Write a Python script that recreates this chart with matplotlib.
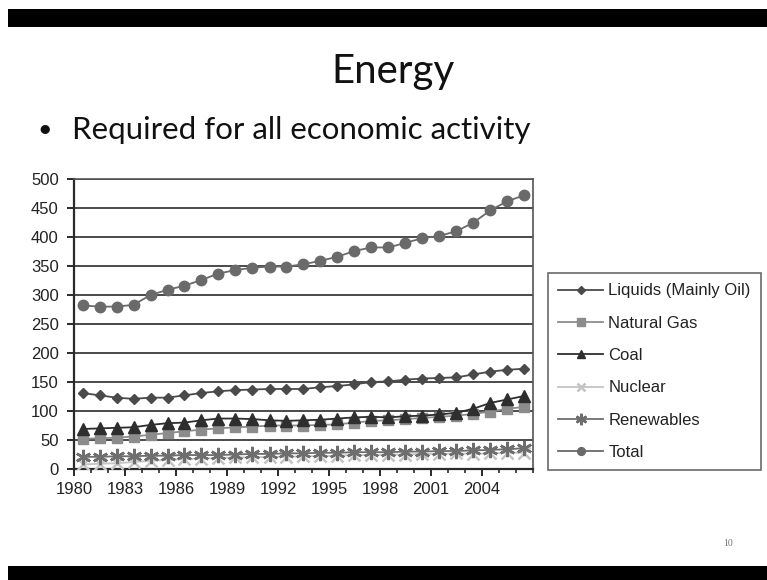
import numpy as np
import matplotlib
matplotlib.use("Agg")
import matplotlib.pyplot as plt
from matplotlib.patches import Rectangle

# World primary energy consumption by fuel (quadrillion Btu)
years = list(range(1980, 2007))
liquids = [131, 127, 123, 121, 123, 123, 127, 131, 134, 136, 137, 138, 138, 138, 141,
           143, 146, 150, 151, 154, 156, 157, 158, 163, 168, 171, 173]
natural_gas = [52, 53, 54, 56, 59, 62, 65, 68, 70, 72, 73, 75, 75, 75, 76,
               77, 80, 83, 84, 86, 88, 90, 92, 95, 99, 104, 107]
coal = [69, 70, 71, 72, 76, 79, 80, 84, 87, 87, 86, 84, 83, 84, 85,
        87, 89, 90, 89, 91, 92, 94, 97, 104, 114, 120, 126]
nuclear = [8, 9, 10, 12, 14, 16, 17, 18, 19, 20, 20, 21, 21, 22, 22,
           23, 24, 24, 25, 25, 26, 26, 27, 26, 27, 28, 28]
renewables = [21, 21, 22, 22, 23, 23, 24, 24, 24, 25, 26, 26, 27, 27, 28,
              28, 29, 29, 29, 30, 30, 31, 31, 32, 33, 34, 36]
total = [282, 280, 280, 283, 300, 309, 316, 326, 337, 343, 347, 349, 349, 353, 359,
         366, 376, 382, 382, 390, 398, 402, 410, 425, 446, 462, 472]

series_labels = ["Liquids (Mainly Oil)", "Natural Gas", "Coal", "Nuclear", "Renewables", "Total"]
year_tick_labels = ["1980", "1983", "1986", "1989", "1992", "1995", "1998", "2001", "2004"]

W, H = 767, 580
fig = plt.figure(figsize=(W / 100, H / 100), dpi=100)
fig.patch.set_facecolor("white")

def px_rect(x0, y0, x1, y1, **kw):
    fig.patches.append(Rectangle((x0 / W, 1 - y1 / H), (x1 - x0) / W, (y1 - y0) / H,
                                 transform=fig.transFigure, figure=fig, **kw))

# slide frame bands
px_rect(8, 9, W, 27, facecolor="black", edgecolor="none")
px_rect(8, 566, W, H, facecolor="black", edgecolor="none")

# slide title and bullet
fig.text(393 / W, 1 - 72 / H, "Energy", ha="center", va="center",
         fontsize=29, family="Lato", color="#111111")
fig.text(45 / W, 1 - 130 / H, "\u2022", ha="center", va="center",
         fontsize=18, family="Lato", color="#111111")
fig.text(72 / W, 1 - 139 / H, "Required for all economic activity", ha="left", va="baseline",
         fontsize=22.5, family="Lato", color="#111111")
fig.text(728 / W, 1 - 543 / H, "10", ha="center", va="center",
         fontsize=7, family="Liberation Serif", color="#777777")

# chart
ax = fig.add_axes([74 / W, (H - 469) / H, (533 - 74) / W, (469 - 179) / H])
x = np.arange(len(years)) + 0.5

styles = [
    (liquids, dict(color="#4a4a4a", marker="D", markersize=5.5)),
    (natural_gas, dict(color="#8c8c8c", marker="s", markersize=7.5)),
    (coal, dict(color="#2e2e2e", marker="^", markersize=8.5)),
    (nuclear, dict(color="#c4c4c4", marker="x", markersize=8, markeredgewidth=1.8)),
    (renewables, dict(color="#6e6e6e", marker=(6, 2, 0), markersize=11, markeredgewidth=1.8)),
    (total, dict(color="#6a6a6a", marker="o", markersize=7.5)),
]
handles = []
for (vals, st), lab in zip(styles, series_labels):
    h, = ax.plot(x, vals, linewidth=1.3, label=lab, zorder=3, **st)
    handles.append(h)

ax.set_xlim(0, len(years))
ax.set_ylim(0, 500)
ax.set_yticks(np.arange(0, 501, 50))
ax.set_xticks(np.arange(0, len(years), 3))
ax.set_xticklabels(year_tick_labels)
ax.set_xticks(np.arange(0, len(years) + 1), minor=True)
ax.grid(axis="y", color="#3c3c3c", linewidth=1.3, zorder=1)
ax.set_axisbelow(True)

for side in ["left", "bottom"]:
    ax.spines[side].set_color("#2a2a2a")
    ax.spines[side].set_linewidth(1.6)
for side in ["top", "right"]:
    ax.spines[side].set_color("#555555")
    ax.spines[side].set_linewidth(1.2)

ax.tick_params(axis="both", which="major", direction="out", length=5, width=1.4,
               color="#2a2a2a", labelsize=12, labelcolor="#222222")
ax.tick_params(axis="x", which="minor", direction="out", length=3, width=1.2, color="#2a2a2a")
ax.tick_params(axis="x", pad=4)
ax.tick_params(axis="y", pad=6)
for lbl in ax.get_xticklabels() + ax.get_yticklabels():
    lbl.set_family("Liberation Sans")

leg = fig.legend(handles=handles, loc="upper left",
                 bbox_to_anchor=(548 / W, 1 - 273 / H), bbox_transform=fig.transFigure,
                 borderaxespad=0, frameon=True, fancybox=False, edgecolor="#444444",
                 prop={"family": "Liberation Sans", "size": 12},
                 handlelength=2.7, handletextpad=0.3, labelspacing=1.04,
                 markerscale=0.75, borderpad=0.62)
leg.get_frame().set_linewidth(1.2)
for t in leg.get_texts():
    t.set_color("#222222")

fig.savefig("out.png", dpi=100)
